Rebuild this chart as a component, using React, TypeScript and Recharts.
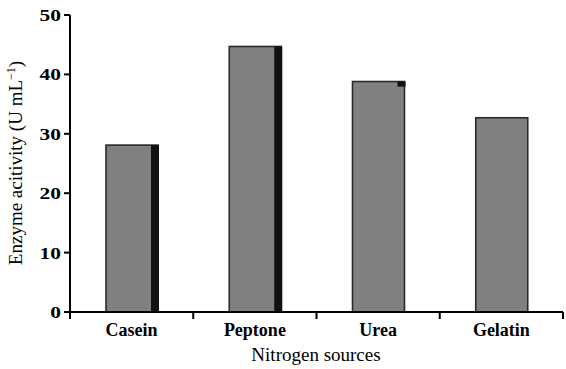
import React from 'react';
import { BarChart, Bar, XAxis, YAxis } from 'recharts';

const categories = ['Casein', 'Peptone', 'Urea', 'Gelatin'];
const activity = [28.1, 44.7, 38.8, 32.7];
const darkTop = [28.1, 44.7, 38.8, null];
const darkBottom = [0, 0, 37.95, null];
const yTicks = [0, 10, 20, 30, 40, 50];

const data = categories.map((name, i) => ({
  name,
  activity: activity[i],
  darkTop: darkTop[i],
  darkBottom: darkBottom[i],
}));

const FONT = 'Liberation Serif';

const BarShape = (props: any) => {
  const { x, y, width, height, payload } = props;
  const value = payload.activity;
  const ppu = value ? height / value : 0;
  const base = y + height;
  const stripW = 7;
  const els: any[] = [
    <rect key="b" x={x} y={y} width={width} height={height} fill="#808080" stroke="#2a2a2a" strokeWidth={1.6} />,
  ];
  if (payload.darkTop != null) {
    const top = base - payload.darkTop * ppu;
    const bot = base - payload.darkBottom * ppu;
    els.push(<rect key="d" x={x + width - stripW} y={top} width={stripW + 1} height={bot - top} fill="#111" />);
  }
  return <g>{els}</g>;
};

const XTick = (props: any) => {
  const { x, y, payload, index, visibleTicksCount } = props;
  const off = payload && payload.offset ? payload.offset : 61.6;
  const axisY = y - 10;
  const last = index === (visibleTicksCount ? visibleTicksCount - 1 : categories.length - 1);
  return (
    <g>
      <line x1={x - off} x2={x - off} y1={axisY} y2={axisY + 7} stroke="#000" strokeWidth={2} />
      {last && <line x1={x + off} x2={x + off} y1={axisY} y2={axisY + 7} stroke="#000" strokeWidth={2} />}
      <text x={x} y={y} dy="0.75em" textAnchor="middle" style={{ fontFamily: FONT, fontWeight: 'bold', fontSize: 18 }} fill="#000">
        {payload.value}
      </text>
    </g>
  );
};

const YTick = (props: any) => {
  const { x, y, payload } = props;
  return (
    <g transform={`translate(${x} ${y}) scale(1.3 1)`}>
      <text x={0} y={0} dy="0.36em" textAnchor="end" style={{ fontFamily: FONT, fontWeight: 'bold', fontSize: 16.5 }} fill="#000">
        {payload.value}
      </text>
    </g>
  );
};

const YLabel = () => (
  <text
    x={22}
    y={163}
    transform="rotate(-90 22 163)"
    textAnchor="middle"
    style={{ fontFamily: FONT, fontSize: 19 }}
    fill="#000"
  >
    Enzyme acitivity (U mL
    <tspan fontSize={12} dy={-7}>−1</tspan>
    <tspan dy={7}>)</tspan>
  </text>
);

const XLabel = () => (
  <text x={316} y={361} textAnchor="middle" style={{ fontFamily: FONT, fontSize: 19 }} fill="#000">
    Nitrogen sources
  </text>
);

export default function App() {
  return (
    <div style={{ width: 566, height: 369, position: 'absolute', left: 0, top: 0, background: '#fff', fontFamily: FONT }}>
      <style>{`svg text { font-family: 'Liberation Serif', serif; }`}</style>
      <BarChart width={566} height={369} data={data} margin={{ top: 15, right: 3, bottom: 0, left: 0 }}>
        <XAxis
          dataKey="name"
          height={57}
          axisLine={{ stroke: '#000', strokeWidth: 2 }}
          tickLine={false}
          tickSize={8}
          tickMargin={2}
          tick={<XTick />}
          interval={0}
          label={{ content: () => <XLabel /> }}
        />
        <YAxis
          width={70}
          domain={[0, 50]}
          ticks={yTicks}
          interval={0}
          axisLine={{ stroke: '#000', strokeWidth: 2 }}
          tickLine={{ stroke: '#000', strokeWidth: 2 }}
          tickSize={6}
          tickMargin={3}
          tick={<YTick />}
          label={{ content: () => <YLabel /> }}
        />
        <Bar dataKey="activity" barSize={52} shape={<BarShape />} isAnimationActive={false} />
      </BarChart>
    </div>
  );
}
